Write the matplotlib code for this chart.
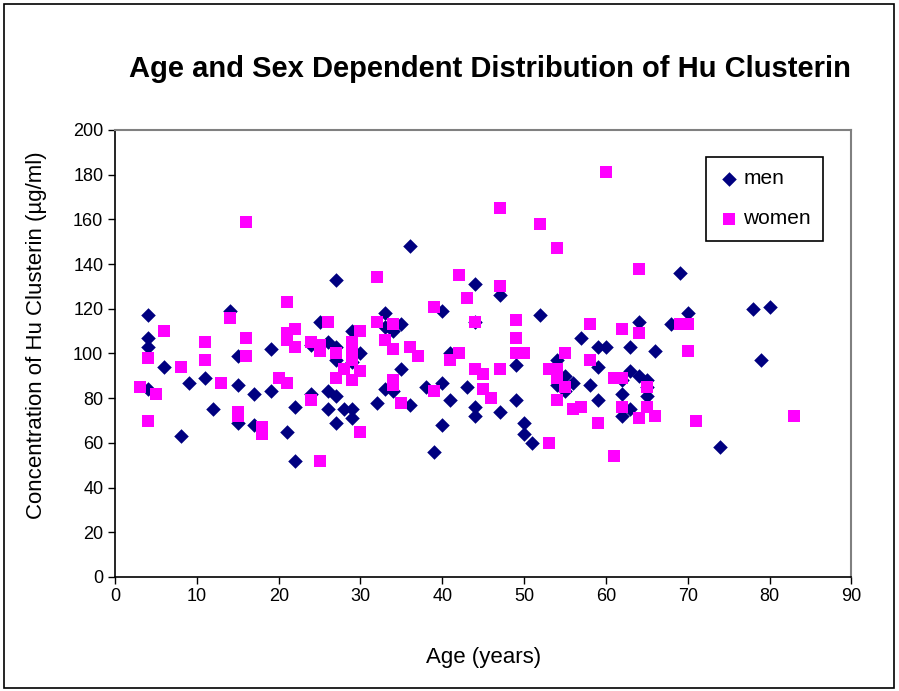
import matplotlib
matplotlib.use("Agg")
import matplotlib.pyplot as plt
from matplotlib.patches import Rectangle

plt.rcParams["font.family"] = ["Liberation Sans Narrow", "Liberation Sans", "DejaVu Sans"]

# ---------------------------------------------------------------------------
# Data
# ---------------------------------------------------------------------------
men_age = [4, 4, 4, 4, 6, 8, 9, 11, 12, 14, 15, 15, 15, 17, 17, 19, 19, 21, 22, 22,
           24, 24, 25, 26, 26, 26, 27, 27, 27, 27, 27, 28, 29, 29, 29, 29, 30, 32,
           33, 33, 33, 34, 34, 35, 35, 36, 36, 38, 39, 40, 40, 40, 41, 41, 43,
           44, 44, 44, 44, 47, 47, 49, 49, 50, 50, 51, 52, 54, 54, 55, 55, 56, 57,
           58, 59, 59, 59, 60, 62, 62, 62, 63, 63, 63, 64, 64, 65, 65, 65, 66, 68,
           69, 70, 74, 78, 79, 80]
men_conc = [117, 107, 103, 84, 94, 63, 87, 89, 75, 119, 99, 86, 69, 82, 68, 102, 83, 65, 76, 52,
            104, 82, 114, 105, 83, 75, 133, 103, 97, 81, 69, 75, 110, 96, 75, 71, 100, 78,
            118, 112, 84, 110, 83, 113, 93, 148, 77, 85, 56, 119, 87, 68, 100, 79, 85,
            131, 114, 76, 72, 126, 74, 95, 79, 69, 64, 60, 117, 97, 86, 90, 83, 87, 107,
            86, 103, 94, 79, 103, 88, 82, 72, 103, 92, 75, 114, 90, 88, 85, 81, 101, 113,
            136, 118, 58, 120, 97, 121]

women_age = [3, 4, 4, 5, 6, 8, 11, 11, 13, 14, 15, 15, 16, 16, 16, 18, 18, 20, 21, 21,
             21, 21, 22, 22, 24, 24, 25, 25, 25, 26, 27, 27, 28, 29, 29, 29, 29, 30, 30,
             30, 32, 32, 33, 34, 34, 34, 34, 35, 36, 37, 39, 39, 41, 42, 42, 43, 44, 44,
             45, 45, 46, 47, 47, 47, 49, 49, 49, 50, 52, 53, 53, 54, 54, 54, 54, 55, 55,
             56, 57, 58, 58, 59, 60, 61, 61, 62, 62, 62, 64, 64, 64, 65, 65, 66, 69, 70,
             70, 71, 83]
women_conc = [85, 98, 70, 82, 110, 94, 105, 97, 87, 116, 74, 72, 159, 107, 99, 67, 64, 89, 123, 109,
              106, 87, 111, 103, 105, 79, 104, 101, 52, 114, 100, 89, 93, 105, 101, 97, 88, 110, 92,
              65, 134, 114, 106, 113, 102, 88, 86, 78, 103, 99, 121, 83, 97, 135, 100, 125, 114, 93,
              91, 84, 80, 165, 130, 93, 115, 107, 100, 100, 158, 93, 60, 147, 93, 89, 79, 100, 85,
              75, 76, 113, 97, 69, 181, 89, 54, 111, 89, 76, 138, 109, 71, 85, 76, 72, 113, 113,
              101, 70, 72]

C_MEN = "#000080"
C_WOMEN = "#FF00FF"

fig = plt.figure(figsize=(8.99, 6.91), dpi=100)
fig.patches.append(Rectangle((0.004, 0.004), 0.99, 0.99, transform=fig.transFigure,
                             fill=False, edgecolor="black", linewidth=1.2))

ax = fig.add_axes([0.128, 0.165, 0.819, 0.647])

ax.scatter(men_age, men_conc, marker="D", s=55, color=C_MEN, label="men",
           linewidths=0, zorder=3)
ax.scatter(women_age, women_conc, marker="s", s=70, color=C_WOMEN, label="women",
           linewidths=0, zorder=3)

ax.set_xlim(0, 90)
ax.set_ylim(0, 200)
ax.set_xticks(range(0, 91, 10))
ax.set_yticks(range(0, 201, 20))
ax.tick_params(labelsize=13, direction="out", length=5, width=1)
ax.tick_params(axis="x", pad=3)

for side in ("top", "right"):
    ax.spines[side].set_color("#808080")
    ax.spines[side].set_linewidth(1.5)
for side in ("left", "bottom"):
    ax.spines[side].set_color("black")
    ax.spines[side].set_linewidth(1.2)

ax.set_xlabel("Age (years)", fontsize=16, labelpad=30)
ax.set_ylabel("Concentration of Hu Clusterin (\u00b5g/ml)", fontsize=16)
ax.yaxis.set_label_coords(-0.092, 0.54)

fig.text(0.545, 0.9, "Age and Sex Dependent Distribution of Hu Clusterin",
         fontsize=21, fontweight="bold", ha="center", va="center")

leg = ax.legend(loc="upper right", bbox_to_anchor=(0.962, 0.94), fontsize=15,
                frameon=True, fancybox=False, edgecolor="black", framealpha=1,
                borderaxespad=0, handletextpad=0.2, labelspacing=1.0, borderpad=0.6,
                handlelength=1.0)
leg.get_frame().set_linewidth(1.2)

fig.savefig("out.png", dpi=100)
